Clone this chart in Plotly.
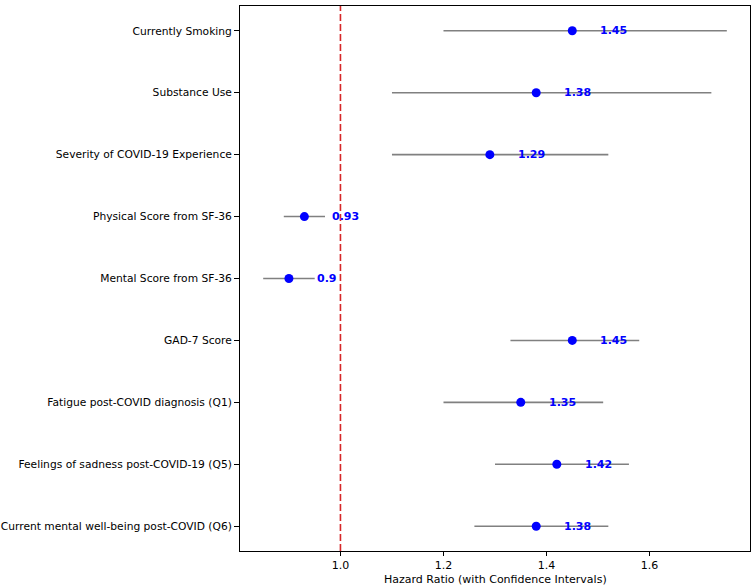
import plotly.graph_objects as go

factors = [
    "Currently Smoking",
    "Substance Use",
    "Severity of COVID-19 Experience",
    "Physical Score from SF-36",
    "Mental Score from SF-36",
    "GAD-7 Score",
    "Fatigue post-COVID diagnosis (Q1)",
    "Feelings of sadness post-COVID-19 (Q5)",
    "Current mental well-being post-COVID (Q6)",
]
hazard_ratio = [1.45, 1.38, 1.29, 0.93, 0.90, 1.45, 1.35, 1.42, 1.38]
ci_lower = [1.20, 1.10, 1.10, 0.89, 0.85, 1.33, 1.20, 1.30, 1.26]
ci_upper = [1.75, 1.72, 1.52, 0.97, 0.95, 1.58, 1.51, 1.56, 1.52]
x_ticks = [1.0, 1.2, 1.4, 1.6]

font = "DejaVu Sans"

fig = go.Figure()
fig.add_trace(go.Scatter(
    x=hazard_ratio,
    y=factors,
    mode="markers",
    marker=dict(color="blue", size=9),
    error_x=dict(
        type="data",
        symmetric=False,
        array=[u - h for u, h in zip(ci_upper, hazard_ratio)],
        arrayminus=[h - l for h, l in zip(hazard_ratio, ci_lower)],
        color="gray",
        thickness=1.6,
        width=0,
    ),
    showlegend=False,
))

# value labels to the right of each point
for h, f in zip(hazard_ratio, factors):
    fig.add_annotation(
        x=h + 0.05, y=f, xref="x", yref="y",
        text="<b>%g</b>" % h, showarrow=False,
        xanchor="left", yanchor="middle",
        font=dict(color="blue", size=11, family=font),
    )

fig.add_vline(x=1.0, line_color="#d62728", line_dash="7px,3px", line_width=1.6)

# x axis title, placed by hand so it fits the tight bottom margin
fig.add_annotation(
    x=0.5, y=-0.0514, xref="paper", yref="paper",
    text="Hazard Ratio (with Confidence Intervals)", showarrow=False,
    xanchor="center", yanchor="middle",
    font=dict(size=11, family=font),
)

fig.update_layout(
    width=752, height=585,
    margin=dict(l=240, r=2, t=6, b=34),
    plot_bgcolor="white",
    paper_bgcolor="white",
    font=dict(family=font, size=11, color="black"),
)
fig.update_xaxes(
    range=[0.805, 1.795],
    tickvals=x_ticks,
    ticktext=["%.1f" % t for t in x_ticks],
    showgrid=False, zeroline=False, automargin=False,
    showline=True, linecolor="black", linewidth=1, mirror=True,
    ticks="outside", ticklen=4, tickcolor="black",
    tickfont=dict(size=11),
)
fig.update_yaxes(
    categoryorder="array", categoryarray=factors,
    range=[8.4, -0.4],
    showgrid=False, zeroline=False, automargin=False,
    showline=True, linecolor="black", linewidth=1, mirror=True,
    ticks="outside", ticklen=5, tickcolor="black",
    tickfont=dict(size=10.7),
)

# drop the default page margin so the figure fills the window
fig.write_html("out.html", config={"displayModeBar": False},
               post_script="document.body.style.margin='0';")
